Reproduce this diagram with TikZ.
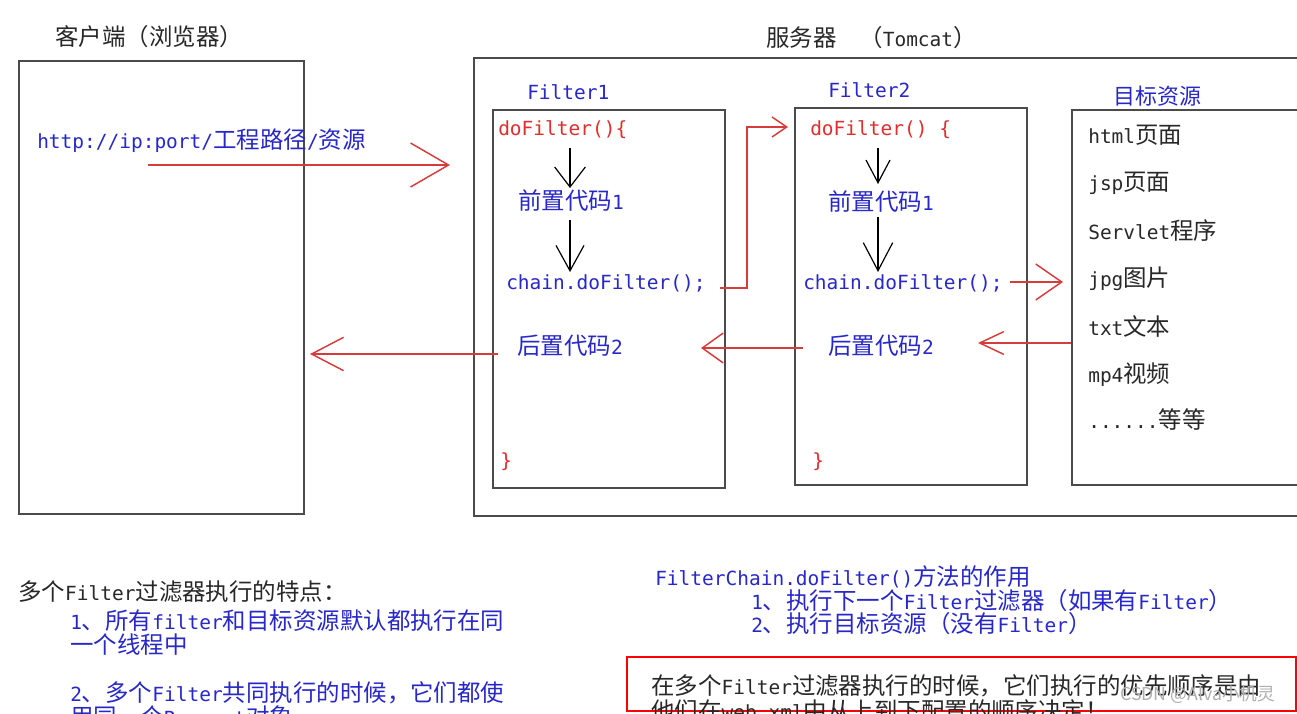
\documentclass[tikz,border=0pt]{standalone}
\usepackage{fontspec}
\setmainfont{Noto Sans CJK SC}
\newfontfamily\latfont[Scale=0.83]{DejaVu Sans Mono}
\newcommand\lat[1]{{\latfont #1}}
\usetikzlibrary{arrows.meta,fit}
\definecolor{tblue}{RGB}{40,40,200}
\definecolor{tred}{RGB}{225,45,45}
\definecolor{tblack}{RGB}{40,40,40}
\definecolor{lred}{RGB}{215,60,60}
\definecolor{boxgray}{RGB}{75,75,75}
\definecolor{wm}{RGB}{175,175,175}
\newcommand\fs{\fontsize{17.6}{20}\selectfont}
\newcommand\fst{\fontsize{17.6}{20}\selectfont}
\begin{document}
\begin{tikzpicture}[x=0.75pt,y=-0.75pt,
  txt/.style={anchor=west,inner sep=0pt,font=\fs},
  bl/.style={txt,text=tblue},
  rd/.style={txt,text=tred},
  bk/.style={txt,text=tblack},
  frame/.style={draw=boxgray,line width=1.4pt,inner sep=0pt},
  redline/.style={draw=lred,line width=1.1pt},
  downarrow/.style={draw=black,line width=0.9pt}
]
\useasboundingbox (0,0) rectangle (1297,714);
\clip (0,0) rectangle (1297,714);
\fill[white] (0,0) rectangle (1297,714);

% boxes
\node[frame,fit={(19,61) (304,514)}] (client) {};
\node[frame,fit={(474,58) (1330,516)}] (server) {};
\node[frame,fit={(493,110) (725,488)}] (f1) {};
\node[frame,fit={(795,108) (1027,485)}] (f2) {};
\node[frame,fit={(1072,110) (1330,485)}] (tgt) {};

% titles
\node[txt,text=tblack,font=\fst] (ctitle) at (55,37) {客户端（浏览器）};
\node[txt,text=tblack,font=\fst] (stitle) at (766,38) {服务器\hspace{17pt}（\lat{Tomcat}）};
\node[bl] (url) at (37,141) {\lat{http://ip:port/}工程路径\lat{/}资源};

% Filter1
\node[bl] (f1t) at (527,92) {\lat{Filter1}};
\node[rd] (f1do) at (498,130) {\lat{doFilter()\{}};
\node[bl] (f1pre) at (518,201) {前置代码\lat{1}};
\node[bl] (f1ch) at (506,283) {\lat{chain.doFilter();}};
\node[bl] (f1post) at (517,346) {后置代码\lat{2}};
\node[rd] (f1end) at (500,462) {\lat{\}}};

% Filter2
\node[bl] (f2t) at (828,90) {\lat{Filter2}};
\node[rd] (f2do) at (810,130) {\lat{doFilter() \{}};
\node[bl] (f2pre) at (828,202) {前置代码\lat{1}};
\node[bl] (f2ch) at (803,283) {\lat{chain.doFilter();}};
\node[bl] (f2post) at (828,346) {后置代码\lat{2}};
\node[rd] (f2end) at (812,462) {\lat{\}}};

% target resources
\node[bl,font=\fontsize{16.5}{20}\selectfont] (tgtt) at (1113,96) {目标资源};
\node[bk] (r1) at (1088,135) {\lat{html}页面};
\node[bk] (r2) at (1088,183) {\lat{jsp}页面};
\node[bk] (r3) at (1088,231) {\lat{Servlet}程序};
\node[bk] (r4) at (1088,279) {\lat{jpg}图片};
\node[bk] (r5) at (1088,326) {\lat{txt}文本};
\node[bk] (r6) at (1088,375) {\lat{mp4}视频};
\node[bk] (r7) at (1088,420) {\lat{......}等等};

% down arrows
\coordinate (a1s) at (570,148); \coordinate (a1e) at (570,188);
\coordinate (a2s) at (570,220); \coordinate (a2e) at (570,272);
\coordinate (a3s) at (878,148); \coordinate (a3e) at (878,184);
\coordinate (a4s) at (878,217); \coordinate (a4e) at (878,272);
\draw[downarrow,-{Straight Barb[length=15pt,width=23pt]}] (a1s) -- (a1e);
\draw[downarrow,-{Straight Barb[length=19pt,width=21pt]}] (a2s) -- (a2e);
\draw[downarrow,-{Straight Barb[length=17pt,width=18pt]}] (a3s) -- (a3e);
\draw[downarrow,-{Straight Barb[length=21pt,width=22pt]}] (a4s) -- (a4e);

% red connectors
\coordinate (u1) at (148,165); \coordinate (u2) at (450,165);
\draw[redline,-{Straight Barb[length=28.5pt,width=33pt]}] (u1) -- (u2);

\coordinate (c1) at (720,288); \coordinate (c2) at (747,288);
\coordinate (c3) at (747,127); \coordinate (c4) at (788,127);
\draw[redline,-{Straight Barb[length=11pt,width=15pt]}] (c1) -- (c2) -- (c3) -- (c4);

\coordinate (d1) at (1010,282); \coordinate (d2) at (1063,282);
\draw[redline,-{Straight Barb[length=19.5pt,width=27pt]}] (d1) -- (d2);

\coordinate (b1) at (tgt.west |- 0,343); \coordinate (b2) at (978,343);
\draw[redline,-{Straight Barb[length=18pt,width=17pt]}] (b1) -- (b2);

\coordinate (e1) at (803,348); \coordinate (e2) at (701,348);
\draw[redline,-{Straight Barb[length=15.75pt,width=22.5pt]}] (e1) -- (e2);

\coordinate (g1) at (498,354); \coordinate (g2) at (310,354);
\draw[redline,-{Straight Barb[length=24pt,width=25pt]}] (g1) -- (g2);

% bottom left notes
\node[bk] (n0) at (18,592) {多个\lat{Filter}过滤器执行的特点：};
\node[bl] (n1) at (70,621) {\lat{1}、所有\lat{filter}和目标资源默认都执行在同};
\node[bl] (n1b) at (70,645) {一个线程中};
\node[bl] (n2) at (70,693) {\lat{2}、多个\lat{Filter}共同执行的时候，它们都使};
\node[bl] (n2b) at (70,718) {用同一个\lat{Request}对象};

% bottom right notes
\node[bl] (m0) at (655,577) {\lat{FilterChain.doFilter()}方法的作用};
\node[bl] (m1) at (751,601) {\lat{1}、执行下一个\lat{Filter}过滤器（如果有\lat{Filter}）};
\node[bl] (m2) at (751,624) {\lat{2}、执行目标资源（没有\lat{Filter}）};

\node[draw=red,line width=1.4pt,inner sep=0pt,fit={(627,657) (1296,711)}] (note) {};
\node[bk] (o1) at (651,686) {在多个\lat{Filter}过滤器执行的时候，它们执行的优先顺序是由};
\node[bk] (o2) at (651,711) {他们在\lat{web.xml}中从上到下配置的顺序决定！};

\node[anchor=west,inner sep=0pt,text=wm,font=\fontsize{13.3}{16}\selectfont] (wmk) at (1120,695) {CSDN @Alva小机灵};
\end{tikzpicture}
\end{document}
